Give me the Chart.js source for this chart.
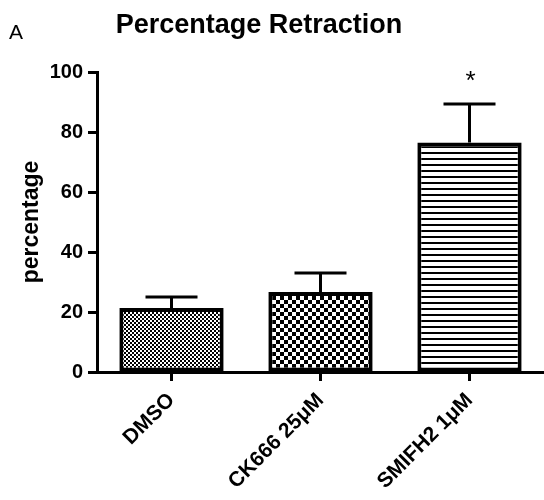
<!DOCTYPE html>
<html>
<head>
<meta charset="utf-8">
<script src="https://cdn.jsdelivr.net/npm/chart.js@4"></script>
<style>
  html, body { margin: 0; padding: 0; background: #fff; }
  canvas { display: block; }
</style>
</head>
<body>
<canvas id="chart" width="544" height="500"></canvas>
<script>
// ── Data ──
const categories = ['DMSO', 'CK666 25\u03BCM', 'SMIFH2 1\u03BCM'];
const means      = [21.3, 26.7, 76.5];
const errors     = [3.7, 6.3, 12.8];
const marks      = ['', '', '*'];
const yTicks     = [0, 20, 40, 60, 80, 100];

const FONT = '"Liberation Sans", Arial, Helvetica, sans-serif';

// ── Fill patterns ──
function makePattern(size, draw) {
  const c = document.createElement('canvas');
  c.width = size; c.height = size;
  const g = c.getContext('2d');
  g.fillStyle = '#fff';
  g.fillRect(0, 0, size, size);
  g.fillStyle = '#000';
  draw(g, size);
  return g.createPattern(c, 'repeat');
}

const ctx = document.getElementById('chart').getContext('2d');

const fineChecker = makePattern(4, (g) => {
  g.fillRect(0, 0, 2, 2);
  g.fillRect(2, 2, 2, 2);
});
const coarseChecker = makePattern(8, (g) => {
  g.fillRect(0, 0, 4, 4);
  g.fillRect(4, 4, 4, 4);
});
const hLines = makePattern(6, (g) => {
  g.fillRect(0, 2, 6, 2);
});

// ── Error bars, significance marks, titles ──
const extras = {
  id: 'extras',
  afterDatasetsDraw(chart) {
    const c = chart.ctx;
    const y = chart.scales.y;
    const meta = chart.getDatasetMeta(0);
    c.save();
    c.strokeStyle = '#000';
    c.lineWidth = 3;
    meta.data.forEach((bar, i) => {
      const top = y.getPixelForValue(means[i] + errors[i]);
      c.beginPath();
      c.moveTo(bar.x, bar.y);
      c.lineTo(bar.x, top);
      c.moveTo(bar.x - 26, top);
      c.lineTo(bar.x + 26, top);
      c.stroke();
      if (marks[i]) {
        c.fillStyle = '#000';
        c.font = '26px ' + FONT;
        c.textAlign = 'center';
        c.textBaseline = 'middle';
        c.fillText(marks[i], bar.x + 1, top - 22);
      }
    });
    c.restore();
  },
  afterDraw(chart) {
    const c = chart.ctx;
    c.save();
    c.fillStyle = '#000';
    c.textBaseline = 'alphabetic';
    c.textAlign = 'center';
    c.font = 'bold 27px ' + FONT;
    c.fillText('Percentage Retraction', 259, 33);
    c.textAlign = 'left';
    c.font = '21px ' + FONT;
    c.fillText('A', 9, 39);
    c.restore();
  }
};

new Chart(ctx, {
  type: 'bar',
  data: {
    labels: categories,
    datasets: [{
      data: means,
      backgroundColor: [fineChecker, coarseChecker, hLines],
      borderColor: '#000',
      borderWidth: 4,
      borderSkipped: false,
      barPercentage: 0.7,
      categoryPercentage: 1
    }]
  },
  options: {
    responsive: false,
    animation: false,
    layout: { padding: { top: 72, left: 0, right: 0, bottom: 0 } },
    plugins: {
      legend: { display: false },
      tooltip: { enabled: false }
    },
    scales: {
      x: {
        grid: {
          display: true, drawOnChartArea: false, offset: false,
          tickLength: 9, tickWidth: 3, tickColor: '#000'
        },
        border: { color: '#000', width: 3 },
        ticks: {
          color: '#000', minRotation: 45, maxRotation: 45, padding: 7,
          font: { family: FONT, size: 21, weight: 'bold' }
        },
        afterFit(scale) { scale.height = 128; }
      },
      y: {
        min: 0, max: 100,
        afterBuildTicks(scale) { scale.ticks = yTicks.map(v => ({ value: v })); },
        grid: {
          display: true, drawOnChartArea: false,
          tickLength: 9, tickWidth: 3, tickColor: '#000'
        },
        border: { color: '#000', width: 3 },
        ticks: {
          color: '#000', padding: 5,
          font: { family: FONT, size: 20, weight: 'bold' }
        },
        title: {
          display: true, text: 'percentage', color: '#000',
          padding: { top: 18, bottom: 0 },
          font: { family: FONT, size: 23, weight: 'bold' }
        },
        afterFit(scale) { scale.width = 97; }
      }
    }
  },
  plugins: [extras]
});
</script>
</body>
</html>
